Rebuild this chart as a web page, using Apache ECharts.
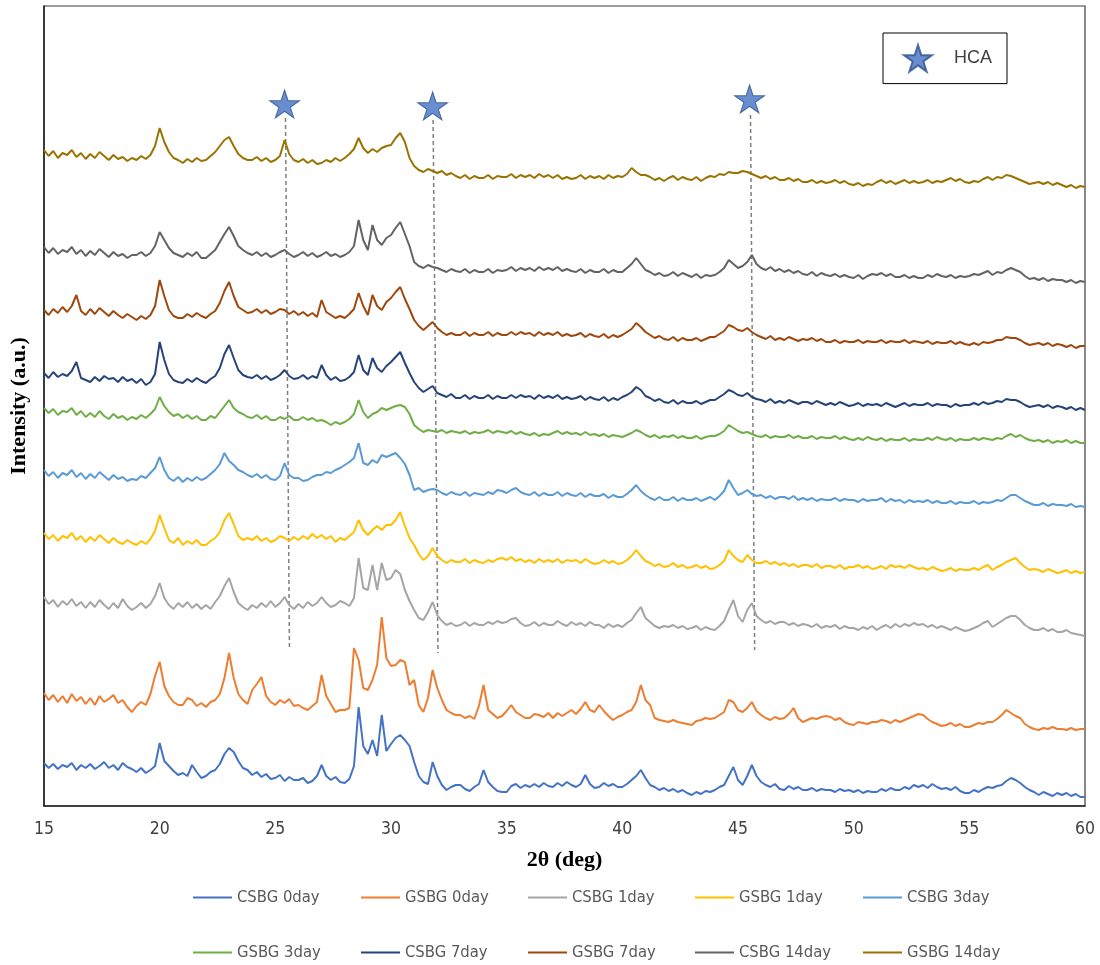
<!DOCTYPE html>
<html>
<head>
<meta charset="utf-8">
<script src="https://cdn.jsdelivr.net/npm/echarts@6/dist/echarts.min.js"></script>
<style>html,body{margin:0;padding:0;background:#fff;}#c{width:1100px;height:965px;}</style>
</head>
<body>
<div id="c"></div>
<script>
// 2θ sampling positions (deg), 15 → 60 every 0.2
const twoTheta = [];
for (let i = 0; i <= 225; i++) twoTheta.push(+(15 + i * 0.2).toFixed(1));

const seriesNames = ['CSBG 0day','GSBG 0day','CSBG 1day','GSBG 1day','CSBG 3day','GSBG 3day','CSBG 7day','GSBG 7day','CSBG 14day','GSBG 14day'];

// Intensities (a.u., stacked offsets included), one row per degree: x.0 x.2 x.4 x.6 x.8
const csbg0 = [
43,38,42,37,41, 39,43,36,41,38, 42,37,40,44,38, 41,36,43,39,37, 34,38,33,36,40,
63,45,40,35,31, 33,30,41,34,28, 30,34,36,42,52, 58,54,45,38,36, 31,34,29,32,27,
28,31,25,29,26, 26,28,23,25,30, 41,30,26,29,24, 23,27,40,99,60, 52,66,50,91,55,
62,68,71,66,60, 44,30,24,22,44, 30,21,16,19,21, 21,17,15,19,22, 36,24,19,15,14,
14,20,22,18,21, 19,22,19,23,20, 19,23,20,24,21, 19,22,31,22,18, 19,23,20,22,19,
19,22,26,30,36, 28,21,19,16,18, 15,17,14,16,13, 11,14,12,15,14, 16,19,21,30,39,
26,21,30,41,30, 24,21,19,22,17, 16,20,17,19,16, 16,18,15,17,16, 16,14,17,15,16,
14,16,13,15,14, 14,17,15,18,16, 16,19,17,21,19, 21,18,22,19,17, 18,16,19,15,13,
13,16,14,17,19, 18,20,21,25,28, 26,23,19,16,14, 11,14,12,10,13, 11,13,10,12,9,
9];
const gsbg0 = [
113,106,111,104,110, 103,112,105,109,102, 108,101,110,104,107, 111,103,106,99,94, 100,104,101,112,130,
144,120,110,104,101, 101,108,106,100,103, 99,104,106,112,128, 153,128,112,106,102, 116,122,129,110,104,
101,106,103,107,100, 101,98,96,100,104, 131,110,102,94,96, 96,98,158,146,118, 116,126,141,189,148,
140,141,146,144,121, 126,101,94,108,136, 118,106,96,93,91, 91,88,90,87,100, 121,96,92,88,90,
95,101,94,91,88, 88,92,91,89,93, 88,93,90,93,96, 92,97,104,96,94, 101,95,90,86,89,
91,94,96,104,121, 106,101,88,86,85, 84,86,84,83,82, 81,85,86,88,87, 88,91,94,106,104,
96,94,98,104,95, 91,88,86,89,87, 88,92,98,88,84, 86,88,87,89,90, 89,86,88,84,82,
81,84,83,82,84, 84,86,85,83,86, 84,86,88,90,92, 91,87,84,82,80, 81,83,80,82,79,
79,81,83,82,84, 84,87,91,96,93, 90,88,82,79,77, 76,78,77,79,77, 77,76,78,76,77,
77];
const csbg1 = [
209,202,206,199,205, 201,207,200,204,198, 204,199,206,201,197, 203,198,207,200,196, 199,203,198,202,210,
223,208,201,197,203, 199,204,198,202,197, 201,197,204,210,220, 228,214,203,199,196, 201,198,203,199,205,
199,203,209,201,197, 202,198,204,200,203, 209,203,199,201,205, 203,200,208,248,218, 216,241,216,243,226,
228,236,232,216,205, 196,188,186,194,204, 191,185,181,183,180, 181,184,180,183,181, 181,184,182,185,183,
184,187,188,183,180, 181,184,180,183,181, 181,185,182,180,184, 181,183,180,184,181, 181,178,182,179,181,
179,183,186,193,199, 188,184,180,178,180, 179,181,178,180,177, 178,180,176,179,177, 176,180,185,196,206,
190,184,196,203,190, 186,183,185,182,184, 184,181,183,180,182, 181,179,182,178,180, 179,181,177,180,178,
178,176,179,177,180, 176,179,181,178,182, 179,182,180,183,181, 182,179,181,178,180, 178,176,179,177,175,
176,178,180,183,185, 179,182,185,188,190, 190,186,181,178,176, 176,178,175,177,174, 174,176,173,172,171,
170];
const gsbg1 = [
273,267,271,265,270, 268,273,266,270,264, 269,265,271,267,263, 268,264,262,266,263, 261,265,262,267,275,
291,278,266,263,268, 261,265,262,266,261, 261,265,268,274,286, 293,282,270,266,268, 266,270,265,268,264,
266,270,268,265,269, 266,270,267,272,268, 271,267,270,264,268, 266,270,274,286,276, 271,276,280,276,281,
281,286,294,280,268, 261,252,246,250,258, 250,246,243,246,244, 244,247,243,246,244, 243,246,244,247,248,
246,249,245,247,244, 246,243,247,244,246, 244,247,243,246,245, 246,243,247,244,242, 243,246,243,245,242,
243,246,250,256,250, 245,243,240,242,239, 240,243,239,241,238, 239,241,238,240,237, 238,241,245,256,250,
246,244,251,246,243, 243,245,242,244,241, 243,240,242,239,241, 241,239,242,238,240, 240,238,241,237,239,
239,241,238,240,237, 238,240,237,241,239, 240,238,241,239,237, 238,236,239,237,235, 236,238,235,237,236,
236,238,236,239,241, 236,239,241,244,246, 248,243,239,236,237, 236,234,237,235,233, 234,236,233,235,233,
234];
const csbg3 = [
336,330,334,328,333, 331,336,329,333,327, 332,328,334,330,326, 331,327,329,325,327, 326,330,328,333,338,
349,336,328,325,329, 324,328,325,329,326, 328,332,336,342,353, 345,341,336,334,331, 329,332,328,331,327,
326,330,343,331,328, 328,325,326,329,331, 331,334,333,336,338, 341,344,348,363,343, 341,346,343,351,349,
351,353,348,342,331, 316,318,314,316,317, 316,313,311,314,312, 311,314,310,313,312, 311,314,312,316,315,
313,316,318,314,312, 311,314,310,313,311, 311,314,310,313,311, 310,313,309,312,310, 310,312,308,311,309,
309,312,316,321,315, 311,308,306,309,306, 306,309,305,308,306, 306,308,305,307,309, 306,310,315,326,318,
311,313,316,312,310, 311,308,310,307,309, 309,307,310,306,308, 306,308,305,307,306, 306,308,305,307,306,
306,304,307,305,306, 306,308,304,307,305, 306,303,306,304,305, 304,306,303,305,303, 303,305,302,304,303,
303,305,302,304,303, 304,306,305,308,311, 311,308,305,303,301, 301,303,300,302,301, 301,300,302,299,300,
299];
const gsbg3 = [
398,393,397,391,395, 394,398,391,395,389, 393,389,395,390,387, 392,388,390,386,389, 387,391,388,392,397,
409,400,394,390,392, 388,391,387,390,386, 386,390,388,394,400, 406,398,394,392,389, 388,391,387,390,386,
386,389,387,390,386, 386,389,386,388,385, 386,384,381,384,382, 384,387,392,406,394, 388,392,394,398,396,
398,400,401,399,392, 381,377,374,376,375, 374,376,373,375,374, 373,375,372,374,373, 374,376,373,375,374,
373,375,372,374,372, 371,373,370,372,371, 373,375,372,374,372, 373,371,374,371,372, 370,372,369,371,370,
369,371,373,376,374, 371,369,371,368,370, 369,371,368,370,368, 368,370,367,369,370, 370,372,375,381,378,
375,373,374,372,370, 369,371,368,370,369, 369,371,368,370,368, 368,370,367,369,368, 368,370,367,369,367,
366,368,366,369,367, 366,368,365,367,366, 366,368,365,367,366, 366,368,366,369,367, 366,368,365,367,366,
366,368,366,368,367, 366,368,367,370,372, 369,371,368,366,365, 366,364,366,363,365, 364,366,363,365,363,
363];
const csbg7 = [
433,428,434,429,432, 430,435,444,428,426, 424,429,425,430,427, 428,424,429,425,427, 423,427,421,424,432,
464,446,432,426,424, 423,427,424,428,425, 423,427,430,438,452, 461,448,436,431,429, 428,431,427,430,426,
428,431,436,430,427, 428,431,427,430,428, 441,431,426,429,425, 426,429,434,451,436, 431,448,438,434,440,
444,449,454,443,433, 424,418,414,417,420, 413,411,409,412,408, 408,411,407,410,408, 408,411,407,410,408,
408,411,408,411,409, 410,407,411,408,410, 408,411,407,409,407, 408,410,406,409,407, 406,409,405,408,406,
409,411,414,419,416, 410,408,405,407,404, 403,406,402,405,403, 403,405,402,404,406, 406,409,412,416,414,
411,410,413,409,407, 406,404,407,403,405, 403,406,404,402,404, 404,402,405,403,401, 403,401,404,402,400,
401,403,400,402,401, 402,400,403,401,399, 401,403,400,402,401, 401,403,400,402,401, 401,399,402,400,401,
401,403,401,404,402, 403,405,404,407,406, 406,404,401,399,400, 401,399,401,398,400, 399,397,399,396,398,
396];
const gsbg7 = [
496,491,497,493,499, 494,500,511,495,491, 497,492,498,494,490, 495,491,488,492,489, 486,490,487,491,500,
526,510,496,490,488, 488,492,489,493,490, 488,492,495,503,515, 524,510,499,496,493, 494,497,493,496,492,
494,497,496,492,495, 491,494,490,493,489, 506,494,491,488,490, 488,492,497,513,500, 491,511,500,496,504,
508,514,519,507,497, 486,480,476,480,484, 478,474,471,473,471, 471,474,470,473,471, 471,474,470,473,471,
471,474,471,474,472, 473,470,474,471,473, 471,474,470,472,470, 471,473,469,472,470, 469,472,468,471,469,
471,474,477,483,479, 474,471,468,470,467, 466,469,465,468,466, 466,468,465,467,469, 469,472,475,481,479,
476,475,478,474,471, 469,467,470,466,468, 466,469,467,465,467, 466,468,465,467,464, 464,466,463,465,464,
464,466,463,465,464, 464,466,463,465,464, 464,466,463,465,464, 463,465,462,464,463, 463,465,462,464,462,
461,463,461,464,463, 464,466,466,469,468, 468,466,463,461,462, 463,461,463,460,462, 461,459,461,458,460,
460];
const csbg14 = [
559,553,558,552,556, 554,559,552,556,550, 555,551,557,553,549, 554,550,552,548,551, 551,554,550,553,560,
574,566,558,553,551, 549,553,550,554,548, 548,552,556,564,572, 579,570,560,556,553, 551,554,550,553,549,
551,554,556,552,549, 551,554,550,553,549, 551,554,550,552,549, 551,554,560,586,566, 556,581,566,561,568,
571,578,584,572,560, 544,540,538,541,539, 538,536,534,537,535, 534,537,533,536,534, 534,537,533,536,535,
536,539,535,538,536, 538,535,539,536,538, 536,539,535,537,535, 534,537,533,536,534, 534,537,533,536,534,
534,538,542,548,542, 536,534,531,533,530, 531,534,530,533,531, 529,532,528,531,530, 531,534,538,546,542,
538,540,544,551,542, 538,536,539,535,537, 534,536,533,535,532, 531,534,530,533,531, 530,532,529,531,529,
528,531,527,530,532, 531,533,530,532,529, 529,531,528,530,528, 528,531,529,532,530, 529,531,528,530,529,
530,532,531,533,535, 531,534,533,536,538, 536,534,530,527,528, 526,528,525,527,526, 526,524,526,523,525,
524];
const gsbg14 = [
656,650,655,648,653, 651,656,649,653,647, 652,648,654,650,646, 651,647,649,645,648, 646,650,647,651,660,
678,664,654,648,646, 643,647,644,648,645, 646,650,654,660,666, 669,660,652,648,646, 646,649,645,648,644,
646,650,666,652,646, 644,647,643,646,642, 643,646,644,648,645, 648,652,657,668,658, 653,657,654,658,660,
661,668,673,664,648, 640,636,634,637,635, 633,635,631,633,630, 628,631,627,630,628, 628,631,627,630,629,
629,632,628,631,629, 631,628,632,629,631, 628,631,627,629,627, 628,631,627,630,628, 630,627,631,628,630,
629,632,638,634,631, 631,629,626,628,625, 628,630,626,629,627, 626,629,625,628,630, 629,632,631,634,633,
633,635,634,632,630, 628,630,627,629,626, 626,628,625,627,624, 624,626,623,625,623, 624,626,623,625,622,
621,623,620,622,621, 624,626,623,625,622, 624,626,623,625,623, 624,626,623,625,624, 626,628,625,627,624,
623,625,624,627,629, 626,629,628,631,630, 628,626,624,622,623, 624,622,624,621,623, 621,619,621,618,620,
619];

// HCA reflections: star markers and guide lines
const hcaAngles = [25.4, 31.8, 45.5];
const hcaStarIntensity = [702, 700, 707];
const hcaLineTop = [[25.44, 688], [31.82, 686], [45.54, 691]];
const hcaLineBottom = [[25.61, 156], [32.03, 153], [45.72, 156]];

const xTicks = [15, 20, 25, 30, 35, 40, 45, 50, 55, 60];

const traces = [csbg0, gsbg0, csbg1, gsbg1, csbg3, gsbg3, csbg7, gsbg7, csbg14, gsbg14];
const colors = ['#4472C4','#ED7D31','#A5A5A5','#FFC000','#5B9BD5','#70AD47','#264478','#9E480E','#636363','#997300'];

const starPath = 'path://M50,0 L61.2,34.5 L97.6,34.5 L68.2,55.9 L79.4,90.5 L50,69.1 L20.6,90.5 L31.8,55.9 L2.4,34.5 L38.8,34.5 Z';
const sansFont = "'DejaVu Sans Condensed', 'Liberation Sans', sans-serif";

const series = traces.map((arr, k) => ({
  name: seriesNames[k],
  type: 'line',
  data: twoTheta.map((x, i) => [x, arr[i]]),
  symbol: 'none',
  showSymbol: false,
  lineStyle: { color: colors[k], width: 2 },
  itemStyle: { color: colors[k] },
  z: 3,
  silent: true
}));

hcaLineTop.forEach((top, k) => {
  series.push({
    type: 'line',
    data: [top, hcaLineBottom[k]],
    symbol: 'none',
    lineStyle: { color: '#7F7F7F', width: 1.5, type: [4, 3] },
    z: 2,
    silent: true
  });
});

series.push({
  name: 'HCA',
  type: 'scatter',
  data: hcaAngles.map((x, i) => [x, hcaStarIntensity[i]]),
  symbol: starPath,
  symbolSize: [30, 28],
  itemStyle: { color: '#4472C4', borderColor: '#2F528F', borderWidth: 1 },
  z: 4
});

const legendX = [193, 361, 528, 695, 863];
const legendRowTop = [889, 944];
const legends = seriesNames.map((n, k) => ({
  data: [n],
  left: legendX[k % 5],
  top: legendRowTop[Math.floor(k / 5)],
  icon: 'rect',
  itemWidth: 39,
  itemHeight: 2,
  padding: 0,
  textStyle: { fontFamily: sansFont, fontSize: 16.5, color: '#595959' },
  selectedMode: false
}));
legends.push({
  data: ['HCA'],
  left: 883,
  top: 33,
  itemWidth: 28,
  itemHeight: 27,
  padding: [11, 15, 11, 20],
  borderColor: '#000',
  borderWidth: 1,
  textStyle: { fontFamily: 'Liberation Sans', fontSize: 18, color: '#404040', padding: [0, 0, 0, 17] },
  selectedMode: false
});

const chart = echarts.init(document.getElementById('c'), null, { renderer: 'canvas' });
chart.setOption({
  animation: false,
  backgroundColor: '#fff',
  grid: { left: 42, right: 15, top: 6, bottom: 159, show: true, borderColor: '#3a3a3a', borderWidth: 1.2 },
  legend: legends,
  xAxis: {
    type: 'value', min: xTicks[0], max: xTicks[xTicks.length - 1], interval: 5,
    name: '2θ (deg)', nameLocation: 'middle', nameGap: 43,
    nameTextStyle: { fontFamily: 'Liberation Serif', fontWeight: 'bold', fontSize: 22, color: '#000' },
    axisLine: { show: true, lineStyle: { color: '#222', width: 1.5 } },
    axisTick: { show: false },
    splitLine: { show: false },
    axisLabel: { fontFamily: sansFont, fontSize: 17.5, color: '#404040', margin: 14 }
  },
  yAxis: {
    type: 'value', min: 0, max: 800,
    name: 'Intensity (a.u.)', nameLocation: 'middle', nameGap: 14,
    nameTextStyle: { fontFamily: 'Liberation Serif', fontWeight: 'bold', fontSize: 22, color: '#000' },
    axisLine: { show: true, lineStyle: { color: '#222', width: 1.5 } },
    axisTick: { show: false },
    axisLabel: { show: false },
    splitLine: { show: false }
  },
  series: series
});
</script>
</body>
</html>
